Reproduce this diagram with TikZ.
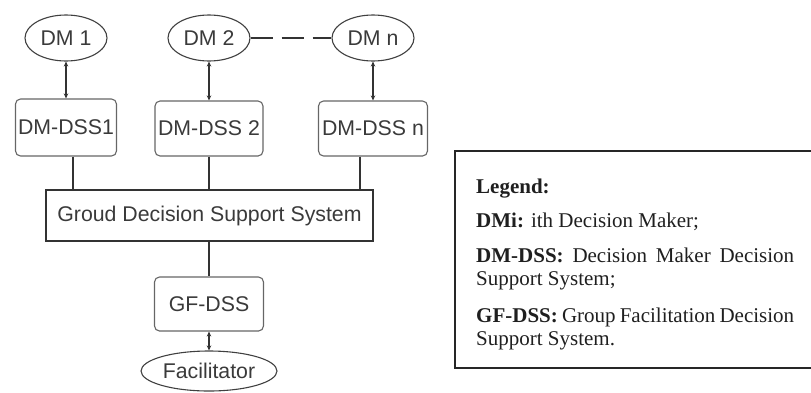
\documentclass[tikz,border=0pt]{standalone}
\usepackage{fontspec}
\setmainfont{Liberation Serif}
\newfontfamily\arialf{Liberation Sans}
\usetikzlibrary{arrows.meta,shapes.geometric}
\definecolor{txtgray}{HTML}{3A3A3A}
\begin{document}
\begin{tikzpicture}[x=1pt,y=-1pt,
  dfont/.style={font=\arialf\fontsize{21.3}{24}\selectfont, text=txtgray},
  dm/.style={ellipse, draw=black!75, line width=1.1pt, minimum width=82pt, minimum height=46pt, inner sep=0pt, dfont},
  dss/.style={rectangle, rounded corners=5pt, draw=black!60, line width=1.1pt, inner sep=0pt, dfont},
  conn/.style={draw=black!80, line width=1.2pt},
  biarrow/.style={conn, {Stealth[length=5pt,width=4.5pt]}-{Stealth[length=5pt,width=4.5pt]}},
  legtext/.style={anchor=base west, inner sep=0pt, font=\fontsize{21}{23}\selectfont, text=black!88}]
\useasboundingbox (0,0) rectangle (811,392);
% decision makers
\node[dm] (dm1) at (66,38) {DM 1};
\node[dm] (dm2) at (209,38) {DM 2};
\node[dm] (dmn) at (373,38) {DM n};
% DSS boxes
\node[dss, minimum width=101pt, minimum height=57pt] (d1) at (66,127.5) {DM-DSS1};
\node[dss, minimum width=108pt, minimum height=55pt] (d2) at (209,128.5) {DM-DSS 2};
\node[dss, minimum width=109pt, minimum height=55pt] (dn) at (373,128.5) {DM-DSS n};
\node[rectangle, draw=black!80, line width=1.2pt, minimum width=327pt, minimum height=51pt, inner sep=0pt, dfont] (g) at (209.5,215.5) {Groud Decision Support System};
\node[dss, minimum width=109pt, minimum height=54pt] (gf) at (209,304) {GF-DSS};
\node[dm, minimum width=136pt, minimum height=40pt] (fac) at (209,371) {Facilitator};
% connectors
\draw[conn, dash pattern=on 22pt off 9pt] (dm2.east) -- (dmn.west);
\draw[biarrow] (d1.north |- dm1.south) -- (d1.north);
\draw[biarrow] (d2.north |- dm2.south) -- (d2.north);
\draw[biarrow] (dn.north |- dmn.south) -- (dn.north);
\draw[conn] ([xshift=7pt]d1.south) -- ([xshift=7pt]d1.south |- g.north);
\draw[conn] (d2.south) -- (d2.south |- g.north);
\draw[conn] ([xshift=-13pt]dn.south) -- ([xshift=-13pt]dn.south |- g.north);
\draw[conn] (gf.north |- g.south) -- (gf.north);
\draw[biarrow] (gf.south) -- (fac.north);
% legend
\coordinate (lgTR) at (811,151);
\coordinate (lgTL) at (455,151);
\coordinate (lgBL) at (455,368);
\coordinate (lgBR) at (811,368);
\draw[line width=1.5pt, draw=black!85] (lgTR) -- (lgTL) -- (lgBL) -- (lgBR);
\node[legtext] (lg0) at (476,193) {\textbf{Legend:}};
\node[legtext] (lg1) at (476,227) {\textbf{DMi:} ith Decision Maker;};
\node[legtext] (lg2) at (476,262) {\makebox[318pt][s]{\textbf{DM-DSS:} Decision Maker Decision}};
\node[legtext] (lg3) at (476,285) {Support System;};
\node[legtext] (lg4) at (476,322) {\makebox[318pt][s]{\textbf{GF-DSS:} Group Facilitation Decision}};
\node[legtext] (lg5) at (476,345) {Support System.};
\end{tikzpicture}
\end{document}
